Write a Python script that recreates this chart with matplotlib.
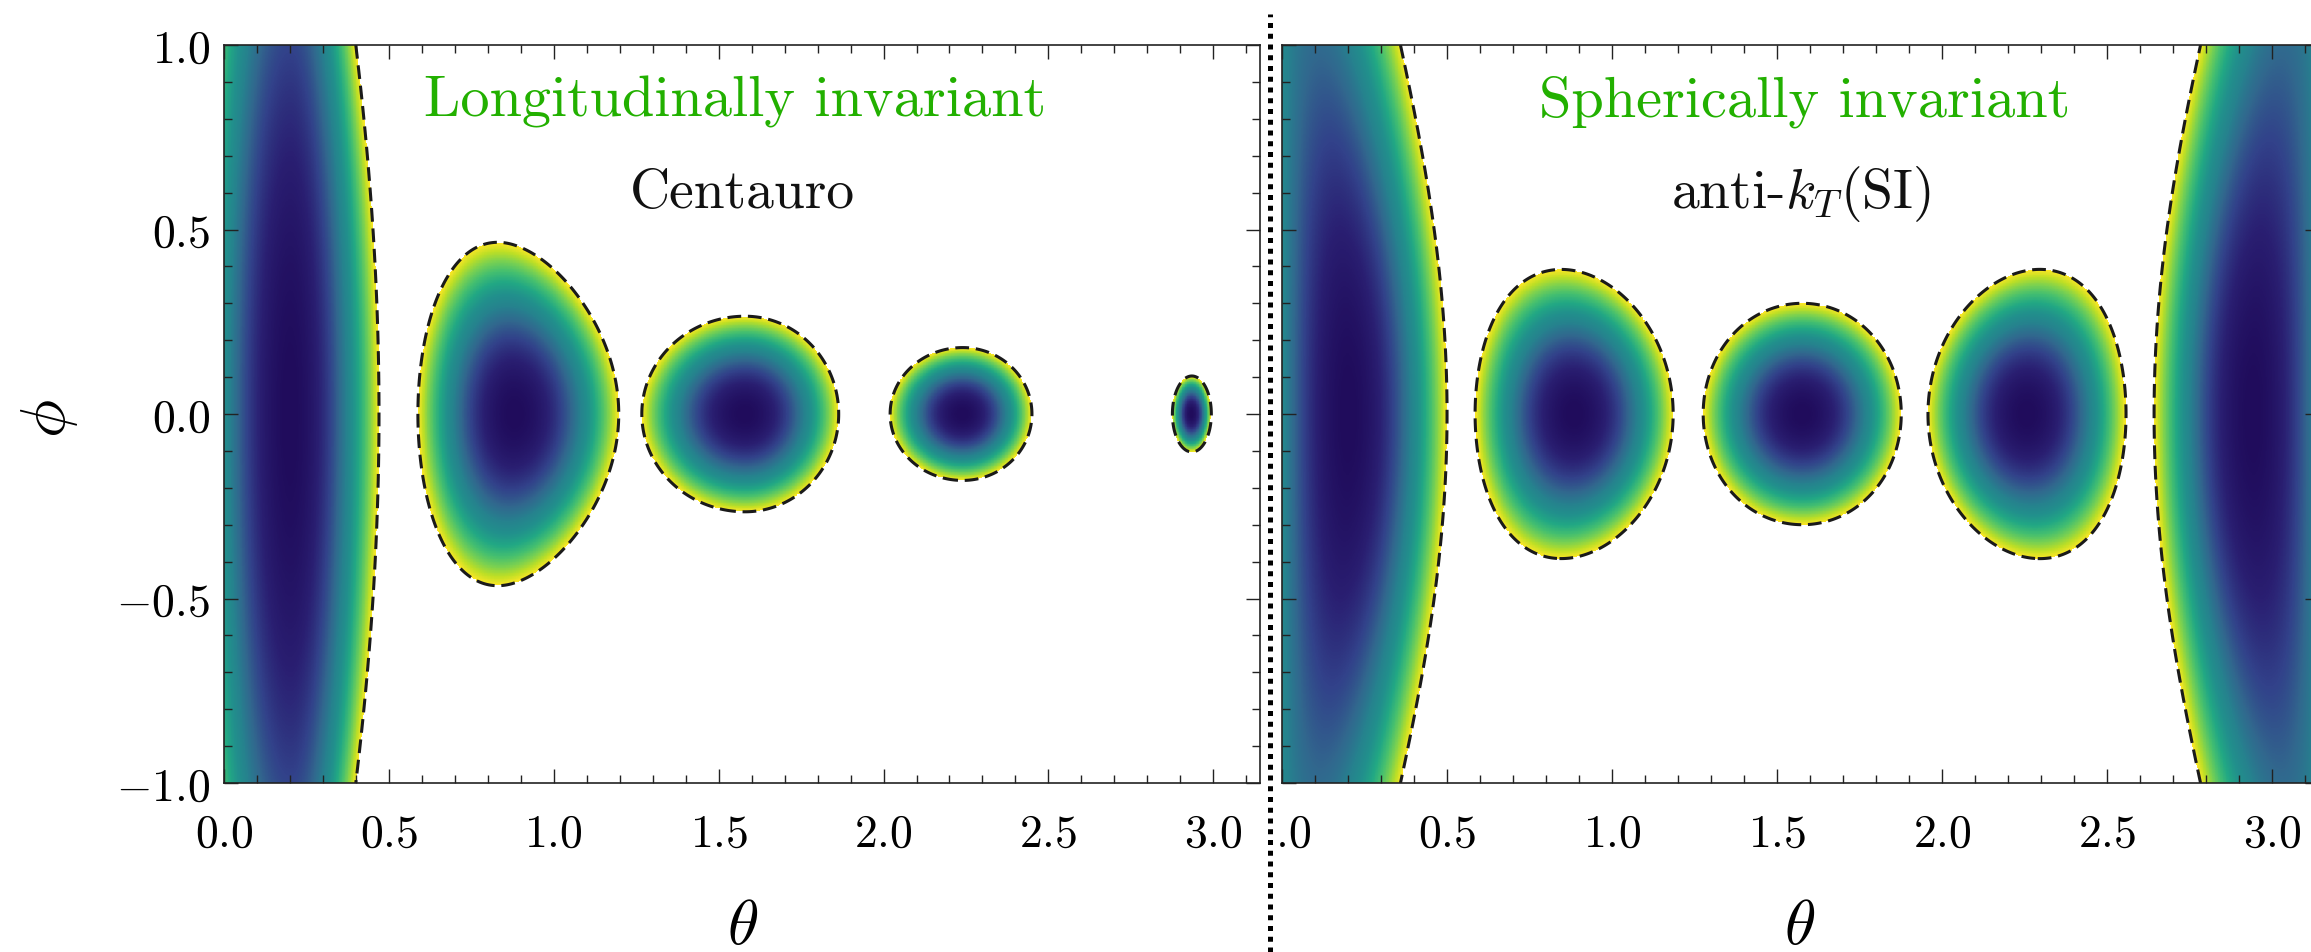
import numpy as np
import matplotlib.pyplot as plt
import matplotlib.ticker as mpltick
from matplotlib.colors import LinearSegmentedColormap
from matplotlib.lines import Line2D
from matplotlib.patches import Rectangle

plt.rcParams.update({
    "font.family": "serif",
    "font.serif": ["cmr10"],
    "mathtext.fontset": "cm",
    "axes.formatter.use_mathtext": True,
})

# Left panel: Centauro jets (longitudinally invariant)
# centre theta, centre phi, half-width left/right in theta, half-height in phi,
# right-side taper (narrowing with phi) and egg skew (phi height shrinking with theta)
cent_theta = [0.20, 0.88, 1.58, 2.24, 2.935]
cent_phi = [0.0, 0.0, 0.0, 0.0, 0.0]
cent_half_left = [0.29, 0.292, 0.313, 0.22, 0.059]
cent_half_right = [0.27, 0.317, 0.284, 0.21, 0.059]
cent_half_phi = [2.2, 0.458, 0.265, 0.18, 0.103]
cent_taper = [0.17, 0.0, 0.0, 0.0, 0.0]
cent_skew = [0.0, 0.623, 0.0, 0.0, 0.0]

# Right panel: anti-kT (SI) jets, circles on the sphere
akt_theta = [0.20, 0.885, 1.576, 2.257, 2.942]
akt_phi = [0.0, 0.0, 0.0, 0.0, 0.0]
akt_R = 0.30

titles = ["Longitudinally invariant", "Spherically invariant"]
algos = ["Centauro", r"anti-$k_T$(SI)"]
green = "#22b000"
cpow = 2.0

# viridis-like map with a darker indigo low end, as in the picture
cmap = LinearSegmentedColormap.from_list("jetarea", [
    (0.0, "#200c5c"), (0.1, "#2a1f72"), (0.2, "#32428a"), (0.3, "#31688e"),
    (0.4, "#26828e"), (0.5, "#21918c"), (0.6, "#22a884"), (0.7, "#44bf70"),
    (0.8, "#7ad151"), (0.9, "#bddf26"), (1.0, "#fde725")])

# grid
th = np.linspace(0, np.pi, 1400)
ph = np.linspace(-1, 1, 1000)
T, P = np.meshgrid(th, ph)


def centauro_field(T, P):
    dist = np.full(T.shape, np.inf)
    for tc, pc, aL, aR, b, k, s in zip(cent_theta, cent_phi, cent_half_left,
                                       cent_half_right, cent_half_phi,
                                       cent_taper, cent_skew):
        dt = T - tc
        dp = P - pc
        a = np.where(dt < 0, aL, np.clip(aR * (1 - k * dp**2), 1e-3, None))
        bb = np.clip(b * (1 - s * dt), 1e-3, None)
        d = np.sqrt((dt / a) ** 2 + (dp / bb) ** 2)
        dist = np.minimum(dist, d)
    return dist


def sphere_field(T, P):
    dist = np.full(T.shape, np.inf)
    for tc, pc in zip(akt_theta, akt_phi):
        cosd = np.cos(T) * np.cos(tc) + np.sin(T) * np.sin(tc) * np.cos(P - pc)
        d = np.arccos(np.clip(cosd, -1, 1)) / akt_R
        dist = np.minimum(dist, d)
    return dist


W, H = 2311, 953
fig = plt.figure(figsize=(W / 100, H / 100), dpi=100)
ax_l = fig.add_axes([224 / W, (H - 784) / H, 1036 / W, 738 / H])
ax_r = fig.add_axes([1282 / W, (H - 784) / H, 1037 / W, 738 / H])

fields = [centauro_field(T, P), sphere_field(T, P)]
for i, (ax, dist) in enumerate(zip([ax_l, ax_r], fields)):
    img = np.ma.masked_where(dist > 1, dist**cpow)
    ax.imshow(img, extent=(0, np.pi, -1, 1), origin="lower", aspect="auto",
              cmap=cmap, vmin=0, vmax=1, interpolation="nearest")
    cs = ax.contour(T, P, dist, levels=[1], colors="#1a1a1a", linewidths=2.2)
    cs.set_linestyle((0, (4.5, 2.2)))
    ax.set_xlim(0, np.pi)
    ax.set_ylim(-1, 1)

    ax.xaxis.set_major_locator(mpltick.MultipleLocator(0.5))
    ax.xaxis.set_minor_locator(mpltick.MultipleLocator(0.1))
    ax.yaxis.set_major_locator(mpltick.MultipleLocator(0.5))
    ax.yaxis.set_minor_locator(mpltick.MultipleLocator(0.1))
    ax.tick_params(which="both", direction="in", top=True, right=True,
                   width=1.0, color="#222222")
    ax.tick_params(which="major", length=10)
    ax.tick_params(which="minor", length=5.5)
    ax.tick_params(axis="x", labelsize=33, pad=22)
    ax.tick_params(axis="y", labelsize=33, pad=10)
    for s in ax.spines.values():
        s.set_linewidth(1.2)
        s.set_color("#222222")

    ax.text(0.493 if i == 0 else 0.504, 0.904, titles[i], transform=ax.transAxes,
            ha="center", va="baseline", fontsize=42, color=green)
    ax.text(0.5, 0.78, algos[i], transform=ax.transAxes,
            ha="center", va="baseline", fontsize=40, color="#111111")

ax_r.tick_params(axis="y", labelleft=False)

# axis labels
fig.text(743 / W, 1 - 928 / H, r"$\theta$", ha="center", va="center", fontsize=46)
fig.text(1800 / W, 1 - 928 / H, r"$\theta$", ha="center", va="center", fontsize=46)
fig.text(50 / W, 1 - 419 / H, r"$\phi$", ha="center", va="center", fontsize=46,
         rotation=90)

# cropped edge of the right figure and the dotted separator
fig.add_artist(Rectangle((1243 / W, 0), 36 / W, (H - 792) / H,
                         transform=fig.transFigure, color="white", zorder=5))
fig.add_artist(Line2D([1270 / W, 1270 / W], [0, 1 - 15 / H], transform=fig.transFigure,
                      color="black", lw=3.6, ls=(0, (1, 1.15)),
                      solid_capstyle="butt", dash_capstyle="butt", zorder=6))

fig.savefig("out.png", dpi=100, facecolor="white")
